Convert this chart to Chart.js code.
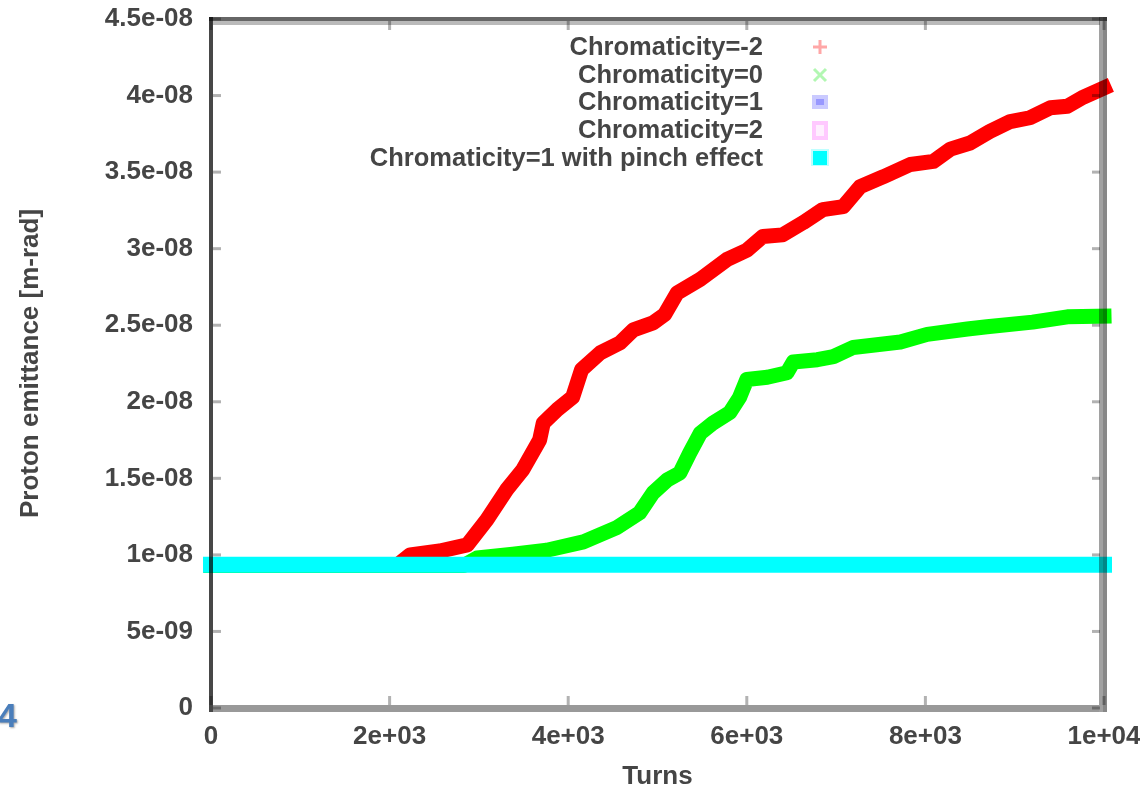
<!DOCTYPE html>
<html>
<head>
<meta charset="utf-8">
<script src="https://cdn.jsdelivr.net/npm/chart.js@4.4.1/dist/chart.umd.min.js"></script>
<style>
html,body{margin:0;padding:0;background:#fff;overflow:hidden;}
canvas{display:block;}
</style>
</head>
<body>
<canvas id="c" width="1140" height="791"></canvas>
<script>
// ---- data ----
const seriesLabels = ['Chromaticity=-2', 'Chromaticity=0', 'Chromaticity=1', 'Chromaticity=2', 'Chromaticity=1 with pinch effect'];
const xTickLabels = ['0', '2e+03', '4e+03', '6e+03', '8e+03', '1e+04'];
const yTickLabels = ['0', '5e-09', '1e-08', '1.5e-08', '2e-08', '2.5e-08', '3e-08', '3.5e-08', '4e-08', '4.5e-08'];
const xAxisTitle = 'Turns';
const yAxisTitle = 'Proton emittance [m-rad]';

const redTurns = [0, 2080, 2230, 2560, 2870, 3090, 3310, 3490, 3680, 3720, 3880, 4050, 4150, 4360, 4580, 4730, 4950, 5080, 5220, 5480, 5780, 6000, 6180, 6400, 6630, 6850, 7080, 7270, 7530, 7830, 8090, 8280, 8500, 8720, 8950, 9170, 9400, 9590, 9770, 10000];
const redEmittance = [9.3e-9, 9.3e-9, 10.0e-9, 10.25e-9, 10.65e-9, 12.3e-9, 14.25e-9, 15.55e-9, 17.5e-9, 18.6e-9, 19.5e-9, 20.3e-9, 22.1e-9, 23.2e-9, 23.85e-9, 24.7e-9, 25.15e-9, 25.7e-9, 27.1e-9, 28.0e-9, 29.3e-9, 29.9e-9, 30.8e-9, 30.9e-9, 31.7e-9, 32.55e-9, 32.75e-9, 34.05e-9, 34.7e-9, 35.5e-9, 35.7e-9, 36.5e-9, 36.9e-9, 37.65e-9, 38.3e-9, 38.55e-9, 39.2e-9, 39.3e-9, 39.9e-9, 40.5e-9];

const greenTurns = [0, 2830, 2980, 3380, 3760, 4170, 4550, 4800, 4950, 5110, 5250, 5360, 5480, 5620, 5810, 5920, 6000, 6230, 6450, 6520, 6790, 6970, 7190, 7720, 8020, 8470, 8690, 9200, 9590, 10000];
const greenEmittance = [9.3e-9, 9.3e-9, 9.8e-9, 10.05e-9, 10.3e-9, 10.85e-9, 11.8e-9, 12.75e-9, 14.05e-9, 14.9e-9, 15.35e-9, 16.65e-9, 17.95e-9, 18.6e-9, 19.3e-9, 20.3e-9, 21.45e-9, 21.6e-9, 21.9e-9, 22.6e-9, 22.75e-9, 22.95e-9, 23.55e-9, 23.9e-9, 24.4e-9, 24.75e-9, 24.9e-9, 25.2e-9, 25.55e-9, 25.6e-9];

const blueTurns = [0, 10000];
const blueEmittance = [9.35e-9, 9.35e-9];
const magentaTurns = [0, 10000];
const magentaEmittance = [9.35e-9, 9.35e-9];
const cyanTurns = [0, 10000];
const cyanEmittance = [9.35e-9, 9.35e-9];

// ---- helpers ----
const FONT = "'Liberation Sans', Arial, sans-serif";
const TEXT = '#454545';
const pts = (xs, ys) => xs.map((x, i) => ({x: x, y: ys[i]}));

const framePlugin = {
  id: 'gnuFrame',
  afterDatasetsDraw(chart) {
    const ctx = chart.ctx, a = chart.chartArea, xs = chart.scales.x, ys = chart.scales.y;
    ctx.save();
    // inward ticks
    ctx.fillStyle = 'rgba(0,0,0,0.3)';
    ys.ticks.forEach((t, i) => {
      const py = ys.getPixelForTick(i);
      ctx.fillRect(a.left + 2, py - 1.5, 8, 3);
      ctx.fillRect(a.right - 12, py - 1.5, 8, 3);
    });
    xs.ticks.forEach((t, i) => {
      const px = xs.getPixelForTick(i);
      ctx.fillRect(px - 1.5, a.top + 2, 3, 9);
      ctx.fillRect(px - 1.5, a.bottom - 12, 3, 9);
    });
    // border
    ctx.fillStyle = 'rgba(0,0,0,0.6)';
    ctx.fillRect(a.left - 2, a.top - 2, a.right - a.left + 5, 4);
    ctx.fillStyle = 'rgba(0,0,0,0.27)';
    ctx.fillRect(a.left + 2, a.top + 2, a.right - a.left - 6, 4);
    ctx.fillStyle = 'rgba(0,0,0,0.72)';
    ctx.fillRect(a.left - 2, a.top - 2, 4, a.bottom - a.top + 6);
    ctx.fillStyle = 'rgba(0,0,0,0.37)';
    ctx.fillRect(a.right - 5, a.top - 2, 4, a.bottom - a.top + 6);
    ctx.fillStyle = 'rgba(0,0,0,0.47)';
    ctx.fillRect(a.right - 1, a.top - 2, 4, a.bottom - a.top + 6);
    ctx.fillStyle = 'rgba(0,0,0,0.4)';
    ctx.fillRect(a.left + 2, a.bottom - 3, a.right - a.left - 7, 7);
    ctx.restore();
  }
};

const legendPlugin = {
  id: 'gnuLegend',
  afterDraw(chart) {
    const ctx = chart.ctx;
    const rows = [47, 75, 102, 130, 158];
    const textRight = 763, cx = 820;
    ctx.save();
    ctx.font = 'bold 25.5px ' + FONT;
    ctx.textAlign = 'right';
    ctx.textBaseline = 'middle';
    chart.data.datasets.forEach((ds, i) => {
      const y = rows[i];
      ctx.fillStyle = TEXT;
      ctx.fillText(ds.label, textRight, y + 1);
      ctx.lineWidth = 3;
      if (i === 0) {
        ctx.strokeStyle = 'rgba(255,60,60,0.45)';
        ctx.beginPath(); ctx.moveTo(cx - 7, y); ctx.lineTo(cx + 7, y); ctx.moveTo(cx, y - 7); ctx.lineTo(cx, y + 7); ctx.stroke();
      } else if (i === 1) {
        ctx.strokeStyle = 'rgba(0,230,0,0.3)';
        ctx.beginPath(); ctx.moveTo(cx - 6, y - 6); ctx.lineTo(cx + 6, y + 6); ctx.moveTo(cx + 6, y - 6); ctx.lineTo(cx - 6, y + 6); ctx.stroke();
      } else if (i === 2) {
        ctx.fillStyle = 'rgba(80,80,255,0.3)';
        ctx.fillRect(cx - 8, y - 7, 16, 14);
        ctx.fillStyle = 'rgba(60,60,255,0.35)';
        ctx.fillRect(cx - 4, y - 3, 8, 6);
      } else if (i === 3) {
        ctx.strokeStyle = 'rgba(255,60,255,0.28)';
        ctx.lineWidth = 4;
        ctx.strokeRect(cx - 6, y - 7, 12, 15);
        ctx.fillStyle = 'rgba(255,120,255,0.12)';
        ctx.fillRect(cx - 4, y - 5, 8, 11);
      } else {
        ctx.fillStyle = 'rgba(0,255,255,0.25)';
        ctx.fillRect(cx - 9, y - 9, 18, 17);
        ctx.fillStyle = '#00ffff';
        ctx.fillRect(cx - 7, y - 7, 14, 14);
      }
    });
    // slide page number fragment at the lower left
    ctx.font = 'bold 34px ' + FONT;
    ctx.textAlign = 'left';
    ctx.textBaseline = 'alphabetic';
    ctx.shadowColor = 'rgba(0,0,0,0.35)';
    ctx.shadowOffsetX = 1; ctx.shadowOffsetY = 1; ctx.shadowBlur = 2;
    ctx.fillStyle = '#4a7ebb';
    ctx.fillText('4', -2, 727);
    ctx.restore();
  }
};

const lineDs = (label, xs, ys, color, width, order) => ({
  label: label,
  data: pts(xs, ys),
  borderColor: color,
  backgroundColor: color,
  borderWidth: width,
  pointRadius: 0,
  tension: 0,
  fill: false,
  showLine: true,
  borderCapStyle: 'square',
  borderJoinStyle: 'round',
  clip: false,
  order: order
});

new Chart(document.getElementById('c').getContext('2d'), {
  type: 'scatter',
  data: {
    datasets: [
      lineDs(seriesLabels[0], redTurns, redEmittance, '#ff0000', 15, 4),
      lineDs(seriesLabels[1], greenTurns, greenEmittance, '#00ff00', 15, 3),
      lineDs(seriesLabels[2], blueTurns, blueEmittance, '#0000ff', 14, 2),
      lineDs(seriesLabels[3], magentaTurns, magentaEmittance, '#ff00ff', 14, 1),
      lineDs(seriesLabels[4], cyanTurns, cyanEmittance, '#00ffff', 16, 0)
    ]
  },
  options: {
    responsive: false,
    animation: false,
    devicePixelRatio: 1,
    events: [],
    layout: {padding: {left: 0, right: 36, top: 19, bottom: 0}},
    plugins: {legend: {display: false}, tooltip: {enabled: false}, title: {display: false}},
    scales: {
      x: {
        type: 'linear', min: 0, max: 10000,
        grid: {display: false, drawTicks: false},
        border: {display: false},
        ticks: {
          stepSize: 2000, autoSkip: false, maxRotation: 0, padding: 13,
          color: TEXT, font: {family: FONT, size: 26, weight: 'bold'},
          callback: (v, i) => xTickLabels[i]
        },
        title: {display: true, text: xAxisTitle, color: TEXT, font: {family: FONT, size: 26, weight: 'bold'}, padding: {top: 0, bottom: -1}},
        afterFit: s => { s.height = 83; s.paddingLeft = 0; s.paddingRight = 0; }
      },
      y: {
        type: 'linear', min: 0, max: 4.5e-8,
        grid: {display: false, drawTicks: false},
        border: {display: false},
        ticks: {
          stepSize: 5e-9, autoSkip: false, padding: 18,
          color: TEXT, font: {family: FONT, size: 26, weight: 'bold'},
          callback: (v, i) => yTickLabels[i]
        },
        title: {display: true, text: yAxisTitle, color: TEXT, font: {family: FONT, size: 26, weight: 'bold'}, padding: {top: 15, bottom: 0}},
        afterFit: s => { s.width = 211; s.paddingTop = 0; s.paddingBottom = 0; }
      }
    }
  },
  plugins: [framePlugin, legendPlugin]
});
</script>
</body>
</html>
